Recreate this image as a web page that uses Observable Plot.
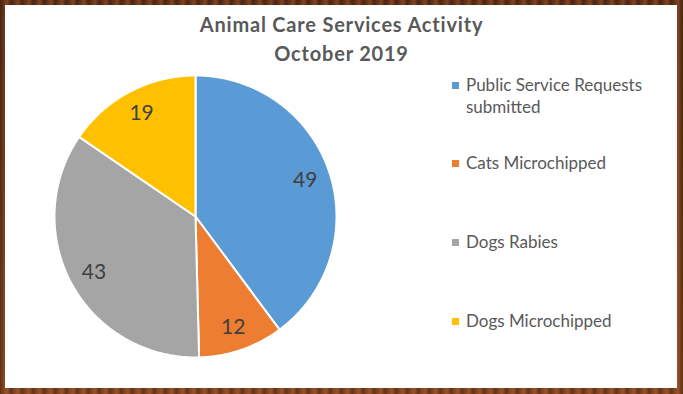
<!DOCTYPE html>
<html>
<head>
<meta charset="utf-8">
<script src="https://cdn.jsdelivr.net/npm/d3@7"></script>
<script src="https://cdn.jsdelivr.net/npm/@observablehq/plot@0.6"></script>
<style>
  html, body { margin: 0; padding: 0; background: #fff; }
  #frame {
    position: relative; width: 683px; height: 394px; overflow: hidden;
    background:
      repeating-linear-gradient(90deg, rgba(0,0,0,0.25) 0px, rgba(0,0,0,0) 3px, rgba(255,140,70,0.22) 7px, rgba(0,0,0,0.2) 11px),
      linear-gradient(#5e3018, #7e4220);
  }
  #inner {
    position: absolute; left: 5px; top: 5px; right: 6px; bottom: 6px; background: #fff;
  }
  #title {
    position: absolute; left: 0; width: 683px; top: 10px; text-align: center;
    font-family: Lato, "Open Sans", sans-serif; font-weight: bold; font-size: 20px;
    letter-spacing: 0.8px; line-height: 29px; color: #595959;
  }
  #chart { position: absolute; left: 0; top: 0; }
  #legend { position: absolute; left: 452px; top: 0; font-family: Lato, sans-serif; font-size: 17px; color: #595959; }
  .item { position: absolute; left: 0; white-space: nowrap; line-height: 22px; }
  .sw { position: absolute; left: 0; top: 8px; width: 7px; height: 7px; }
  .lbl { position: absolute; left: 14px; top: 0; }
</style>
</head>
<body>
<div id="frame">
  <div id="inner"></div>
  <div id="chart"></div>
  <div id="title">Animal Care Services Activity<br>October 2019</div>
  <div id="legend"></div>
</div>
<script>
const categories = ["Public Service Requests submitted", "Cats Microchipped", "Dogs Rabies", "Dogs Microchipped"];
const legendLines = [["Public Service Requests", "submitted"], ["Cats Microchipped"], ["Dogs Rabies"], ["Dogs Microchipped"]];
const values = [49, 12, 43, 19];
const colors = ["#5B9BD5", "#ED7D31", "#A5A5A5", "#FFC000"];

const pie = d3.pie().sort(null).value(d => d.value);
const arcs = pie(categories.map((c, i) => ({category: c, value: values[i]})));

// outline points for each slice in unit coordinates (angle clockwise from top)
const pts = [];
arcs.forEach(a => {
  pts.push({category: a.data.category, x: 0, y: 0});
  const n = Math.max(2, Math.ceil((a.endAngle - a.startAngle) / 0.01));
  for (let k = 0; k <= n; k++) {
    const t = a.startAngle + (a.endAngle - a.startAngle) * k / n;
    pts.push({category: a.data.category, x: Math.sin(t), y: Math.cos(t)});
  }
  pts.push({category: a.data.category, x: 0, y: 0});
});
const labels = arcs.map(a => {
  const m = (a.startAngle + a.endAngle) / 2;
  return {text: String(a.data.value), x: 0.82 * Math.sin(m), y: 0.83 * Math.cos(m)};
});

const chart = Plot.plot({
  width: 683, height: 394,
  marginLeft: 54, marginRight: 347, marginTop: 75, marginBottom: 37,
  x: {domain: [-1, 1], axis: null},
  y: {domain: [-1, 1], axis: null},
  color: {domain: categories, range: colors},
  style: {background: "transparent", overflow: "visible"},
  marks: [
    Plot.line(pts, {x: "x", y: "y", z: "category", fill: "category", stroke: "#fff", strokeWidth: 2, strokeLinejoin: "round", curve: "linear"}),
    Plot.text(labels, {x: "x", y: "y", text: "text", fontSize: 21, fill: "#404040", fontFamily: "Lato, sans-serif"})
  ]
});
document.getElementById("chart").appendChild(chart);

const legendTops = [74, 152, 231, 310];
const legend = document.getElementById("legend");
legendLines.forEach((lines, i) => {
  const item = document.createElement("div");
  item.className = "item";
  item.style.top = legendTops[i] + "px";
  const sw = document.createElement("div");
  sw.className = "sw"; sw.style.background = colors[i];
  const lbl = document.createElement("div");
  lbl.className = "lbl"; lbl.innerHTML = lines.join("<br>");
  item.appendChild(sw); item.appendChild(lbl);
  legend.appendChild(item);
});
</script>
</body>
</html>
